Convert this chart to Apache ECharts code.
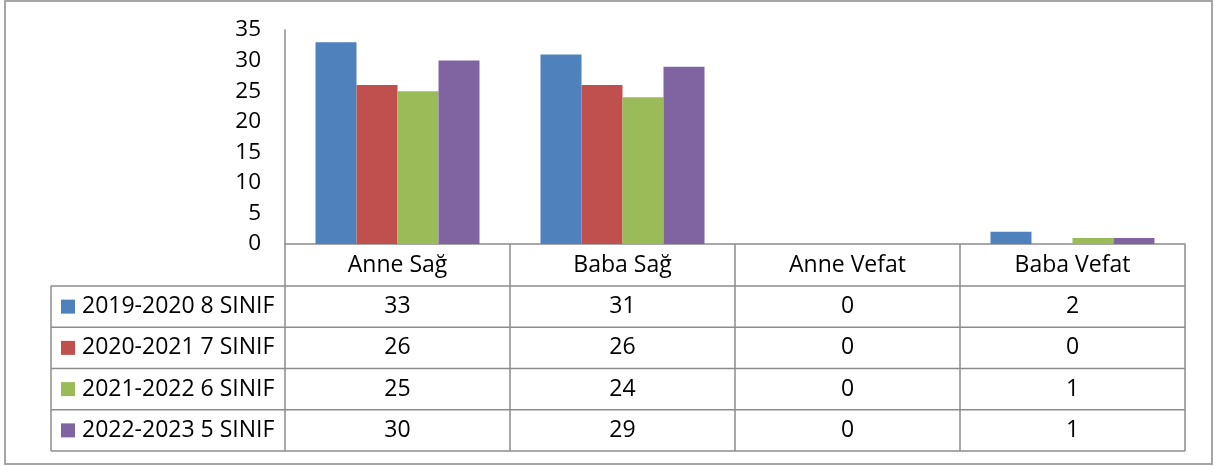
<!DOCTYPE html>
<html>
<head>
<meta charset="utf-8">
<script src="https://cdn.jsdelivr.net/npm/echarts@6/dist/echarts.min.js"></script>
<style>
  html, body { margin: 0; padding: 0; background: #ffffff; }
  #chart { width: 1215px; height: 466px; }
</style>
</head>
<body>
<div id="chart"></div>
<script>
// Categories along the x axis (also the header row of the data table)
const categories = ['Anne Sağ', 'Baba Sağ', 'Anne Vefat', 'Baba Vefat'];

// Series names (rows of the data table)
const seriesNames = ['2019-2020 8 SINIF', '2020-2021 7 SINIF', '2021-2022 6 SINIF', '2022-2023 5 SINIF'];

// Values per series, one per category
const values2019 = [33, 31, 0, 2];
const values2020 = [26, 26, 0, 0];
const values2021 = [25, 24, 0, 1];
const values2022 = [30, 29, 0, 1];

// Value axis range
const yMin = 0;
const yMax = 35;
const yStep = 5;

const seriesValues = [values2019, values2020, values2021, values2022];
const colors = ['#4F81BD', '#C0504D', '#9BBB59', '#8064A2'];

const FONT = '"Open Sans", sans-serif';
const FS = 23;
const LINE = '#8c8c8c';

// Table geometry
const tableLeft = 51;
const axisY = 244;
const headerBottom = 286;
const rowH = 41.25;
const tableRight = 1185;

const chart = echarts.init(document.getElementById('chart'), null, { renderer: 'canvas' });

chart.setOption({
  animation: false,
  backgroundColor: '#ffffff',
  color: colors,
  grid: { left: 285, right: 1215 - tableRight, top: 30, bottom: 466 - axisY, containLabel: false },
  legend: {
    orient: 'vertical',
    left: 61,
    top: headerBottom + rowH / 2 - FS / 2,
    padding: 0,
    itemWidth: 14,
    itemHeight: 14,
    itemGap: rowH - FS,
    icon: 'rect',
    selectedMode: false,
    textStyle: { fontFamily: FONT, fontSize: FS, lineHeight: FS, color: '#000', padding: [0, 0, 0, 2] },
    data: seriesNames
  },
  xAxis: {
    type: 'category',
    data: categories,
    axisLine: { show: true, lineStyle: { color: LINE, width: 1.5 } },
    axisTick: { show: true, interval: 0, length: headerBottom + 4 * rowH - axisY, lineStyle: { color: LINE, width: 1.5 } },
    axisLabel: { interval: 0, fontFamily: FONT, fontSize: FS, lineHeight: FS, color: '#000', margin: 10 },
    splitLine: { show: false }
  },
  yAxis: {
    type: 'value',
    min: yMin,
    max: yMax,
    interval: yStep,
    axisLine: { show: true, lineStyle: { color: LINE, width: 1.5 } },
    axisTick: { show: false },
    splitLine: { show: false },
    axisLabel: { fontFamily: FONT, fontSize: 22.5, color: '#000', margin: 24 }
  },
  series: seriesNames.map((name, i) => ({
    name: name,
    type: 'bar',
    data: seriesValues[i],
    barWidth: 41,
    barGap: '0%',
    itemStyle: { color: colors[i] }
  }))
});

// Data table grid lines and cell values
const graphics = [];
// outer chart border
graphics.push({
  type: 'rect',
  shape: { x: 5, y: 1, width: 1207, height: 463 },
  style: { fill: null, stroke: '#a6a6a6', lineWidth: 2 },
  silent: true
});
// horizontal row lines
for (let r = 0; r <= seriesNames.length; r++) {
  const y = headerBottom + r * rowH;
  graphics.push({
    type: 'line',
    shape: { x1: tableLeft, y1: y, x2: tableRight, y2: y },
    style: { stroke: LINE, lineWidth: 1.5 },
    silent: true
  });
}
// left edge of the legend column
graphics.push({
  type: 'line',
  shape: { x1: tableLeft, y1: headerBottom, x2: tableLeft, y2: headerBottom + seriesNames.length * rowH },
  style: { stroke: LINE, lineWidth: 1.5 },
  silent: true
});
// cell values
seriesValues.forEach((vals, i) => {
  vals.forEach((v, j) => {
    const x = chart.convertToPixel({ xAxisIndex: 0 }, categories[j]);
    graphics.push({
      type: 'text',
      x: x,
      y: headerBottom + (i + 0.5) * rowH,
      style: {
        text: String(v),
        fontFamily: FONT,
        fontSize: FS,
        fill: '#000',
        align: 'center',
        verticalAlign: 'middle'
      },
      silent: true
    });
  });
});

chart.setOption({ graphic: graphics });
</script>
</body>
</html>
